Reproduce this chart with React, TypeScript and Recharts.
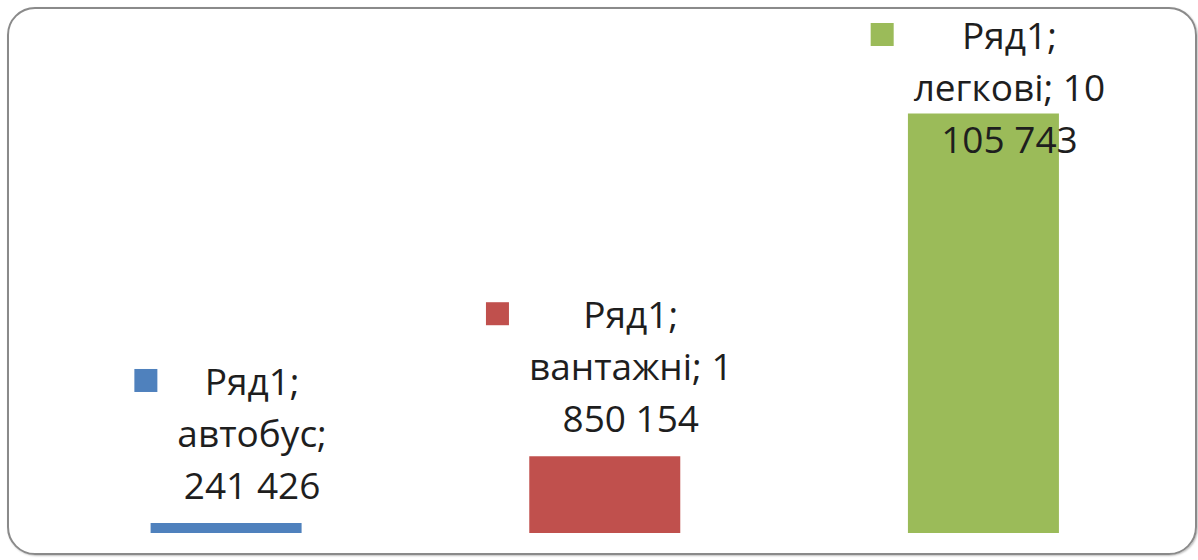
import React from 'react';
import { BarChart, Bar, XAxis, YAxis, Cell, LabelList } from 'recharts';

const seriesName = 'Ряд1';
const categories = ['автобус', 'вантажні', 'легкові'];
const values = [241426, 1850154, 10105743];
const colors = ['#4F81BD', '#C0504D', '#9BBB59'];
const yDomain = [0, 12000000];

const data = categories.map((c, i) => ({ name: c, value: values[i] }));

const FONT_FAMILY = '"Open Sans", "DejaVu Sans", sans-serif';
const FONT_SIZE = 37;
const LINE_H = 52;

function fmt(n: number): string {
  return String(n).replace(/\B(?=(\d{3})+(?!\d))/g, ' ');
}

function wrap(text: string, max: number): string[] {
  const words = text.split(' ');
  const lines: string[] = [];
  let cur = '';
  for (const w of words) {
    const t = cur ? cur + ' ' + w : w;
    if (t.length > max && cur) {
      lines.push(cur);
      cur = w;
    } else cur = t;
  }
  if (cur) lines.push(cur);
  return lines;
}

let ctx: CanvasRenderingContext2D | null = null;
function measure(s: string): number {
  if (!ctx) ctx = document.createElement('canvas').getContext('2d');
  if (!ctx) return s.length * FONT_SIZE * 0.55;
  ctx.font = `${FONT_SIZE}px "Open Sans"`;
  return ctx.measureText(s).width;
}

const renderLabel = (props: any) => {
  const { x, y, width, index } = props;
  const cx = Number(x) + Number(width) / 2 + 26;
  const lines = wrap(`${seriesName}; ${categories[index]}; ${fmt(values[index])}`, 11);
  let lastBase = Number(y) - 24;
  let firstBase = lastBase - (lines.length - 1) * LINE_H;
  if (firstBase < 49) firstBase = 49;
  const widest = Math.max(...lines.map(measure));
  const sqX = cx - widest / 2 - 43;
  return (
    <g>
      <rect x={sqX} y={firstBase - 26} width={23} height={23} fill={colors[index]} />
      {lines.map((l, i) => (
        <text
          key={i}
          x={cx}
          y={firstBase + i * LINE_H}
          textAnchor="middle"
          fontFamily={FONT_FAMILY}
          fontSize={FONT_SIZE}
          fill="#1e1e1e"
        >
          {l}
        </text>
      ))}
    </g>
  );
};

export default function App() {
  return (
    <div style={{ position: 'absolute', left: 0, top: 0, width: 1198, height: 560, background: '#fff' }}>
      <div
        style={{
          position: 'absolute',
          left: 7,
          top: 7,
          width: 1190,
          height: 548,
          boxSizing: 'border-box',
          border: '2px solid #8a8a8a',
          borderRadius: 28,
          boxShadow: '1px 1px 2px rgba(0,0,0,0.25)',
        }}
      />
      <div style={{ position: 'absolute', left: 0, top: 0 }}>
        <BarChart
          width={1198}
          height={560}
          data={data}
          margin={{ top: 35, right: 25, bottom: 27, left: 37 }}
          barCategoryGap="30%"
        >
          <XAxis dataKey="name" hide />
          <YAxis hide domain={yDomain} />
          <Bar dataKey="value" isAnimationActive={false}>
            {data.map((d, i) => (
              <Cell key={d.name} fill={colors[i]} />
            ))}
            <LabelList dataKey="value" content={renderLabel} />
          </Bar>
        </BarChart>
      </div>
    </div>
  );
}
